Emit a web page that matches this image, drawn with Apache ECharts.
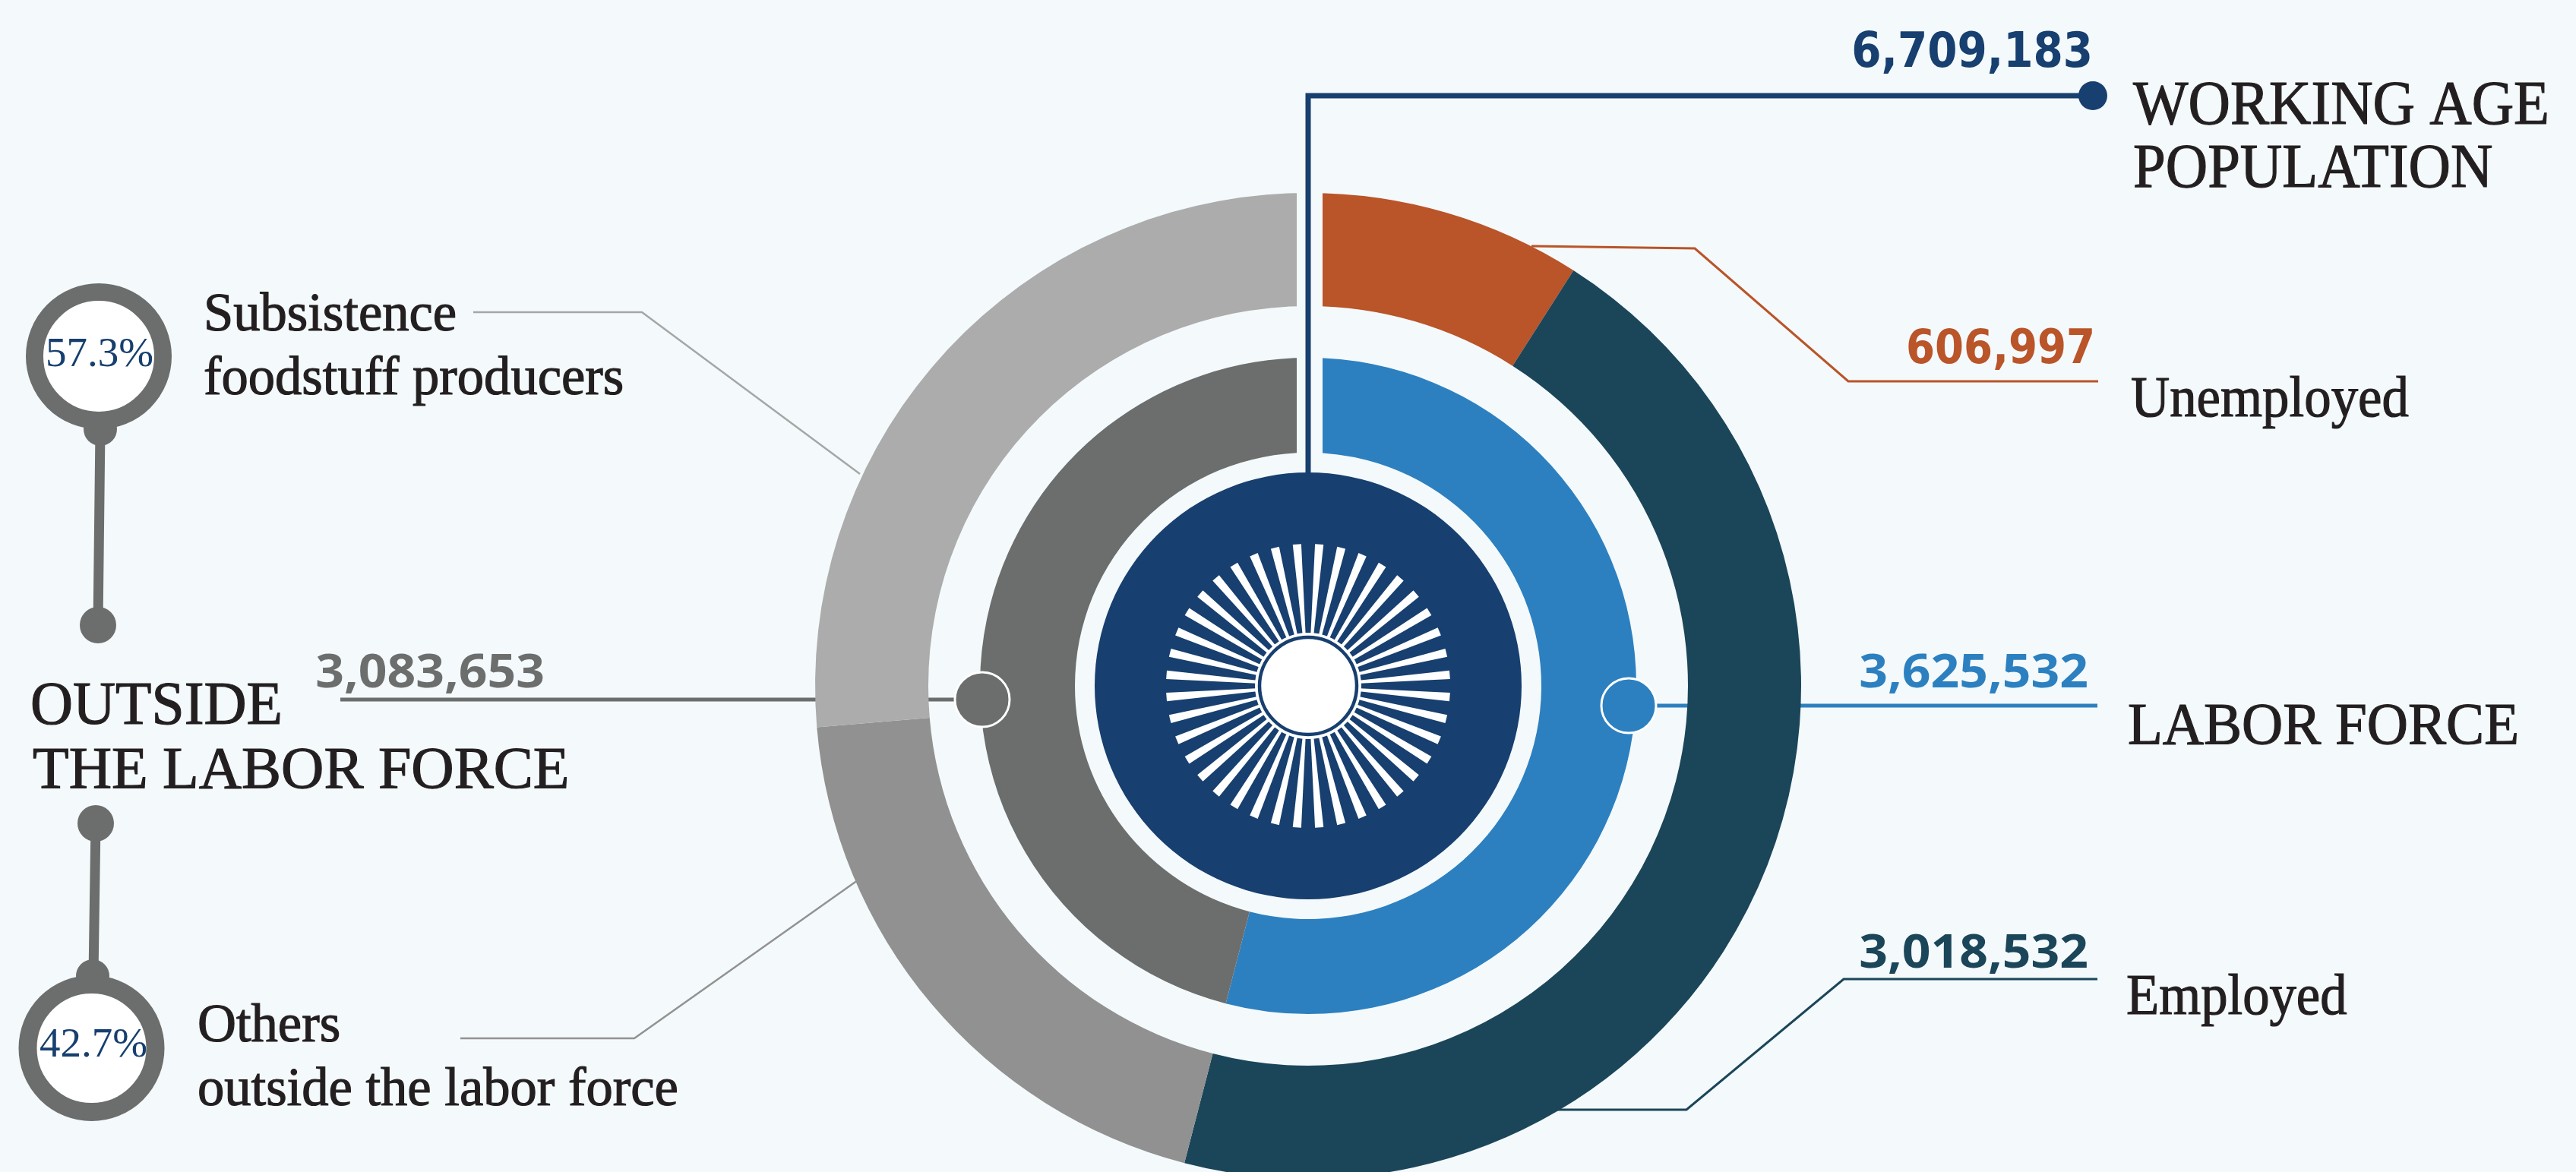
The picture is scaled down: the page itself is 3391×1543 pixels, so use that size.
<!DOCTYPE html>
<html><head><meta charset="utf-8">
<script src="https://cdn.jsdelivr.net/npm/echarts@6/dist/echarts.min.js"></script>
<style>html,body{margin:0;padding:0;background:#F4F9FB;} #c{width:3391px;height:1543px;}</style>
</head><body><div id="c"></div>
<script>
// ---------------- data ----------------
const totalLabel = ['WORKING AGE', 'POPULATION'];
const totalValue = 6709183;
const innerCategories = ['LABOR FORCE', 'OUTSIDE THE LABOR FORCE'];
const innerValues = [3625532, 3083653];
const outerCategories = ['Unemployed', 'Employed', 'Others outside the labor force', 'Subsistence foodstuff producers'];
const outerValues = [606997, 3018532, 1316720, 1766933];
const outsideShares = ['57.3%', '42.7%'];

// ---------------- styles ----------------
const BG = '#F4F9FB';
const NAVY = '#173F6F';
const innerColors = ['#2C80C0', '#6C6E6D'];
const outerColors = ['#BA5429', '#1B4659', '#909190', '#ABACAB'];
const INK = '#231F20';
const SERIF = '"Liberation Serif", "Times New Roman", serif';
const SANS = '"Open Sans", "Noto Sans", sans-serif';
const COND = '"DejaVu Sans Condensed", "Liberation Sans Narrow", "DejaVu Sans", sans-serif';
const CX = 1722, CY = 903;
const fmt = v => v.toLocaleString('en-US');

function txt(str, x, baseline, size, family, color, align, weight, sx, k, sw) {
  const st = { text: str, x: 0, y: 0, fill: color, font: (weight || 'normal') + ' ' + size + 'px ' + family,
    align: align, verticalAlign: 'middle', textAlign: align, textVerticalAlign: 'middle' };
  if (sw) { st.stroke = color; st.lineWidth = sw; }
  return { type: 'text', x: x, y: baseline - k * size, scaleX: sx || 1, z: 60, silent: true, style: st };
}
function poly(points, color, width, z) {
  return { type: 'polyline', z: z || 1, silent: true, shape: { points: points },
    style: { stroke: color, lineWidth: width, fill: null, lineJoin: 'miter' } };
}
function dot(x, y, r, color, stroke, sw, z) {
  return { type: 'circle', z: z || 40, silent: true, shape: { cx: x, cy: y, r: r },
    style: { fill: color, stroke: stroke || null, lineWidth: sw || 0 } };
}
function seg(x1, y1, x2, y2, color, w, z) {
  return { type: 'line', z: z || 40, silent: true, shape: { x1: x1, y1: y1, x2: x2, y2: y2 },
    style: { stroke: color, lineWidth: w, lineCap: 'round' } };
}

const g = [];
// leader lines (under rings)
g.push(poly([[2016, 324], [2231, 327], [2433, 502], [2762, 502]], outerColors[0], 3, 1));
g.push(poly([[2144, 929], [2761, 929]], innerColors[0], 5, 1));
g.push(poly([[2037, 1461], [2220, 1461], [2427, 1289], [2761, 1289]], outerColors[1], 3, 1));
g.push(poly([[1293, 921], [448, 921]], innerColors[1], 5, 1));
g.push(poly([[623, 411], [845, 411], [1132, 624]], '#A5A7A6', 2.5, 1));
g.push(poly([[606, 1367], [835, 1367], [1129, 1159]], '#929292', 2.5, 1));
// top gap between ring halves
g.push({ type: 'rect', z: 30, silent: true, shape: { x: CX + 2 - 17, y: 235, width: 34, height: 370 }, style: { fill: BG } });
// navy leader
g.push(poly([[CX, 625], [CX, 126], [2755, 126]], NAVY, 7, 35));
g.push(dot(2755, 126, 19, NAVY, null, 0, 40));
// ring dots
g.push(dot(2144, 929, 36, innerColors[0], '#ffffff', 3, 40));
g.push(dot(1293, 921, 36, innerColors[1], '#ffffff', 3, 40));

// sun emblem
g.push(dot(CX, CY, 70, '#ffffff', null, 0, 41));
g.push({ type: 'circle', z: 42, silent: true, shape: { cx: CX, cy: CY, r: 64 }, style: { fill: null, stroke: NAVY, lineWidth: 4.5 } });
for (let i = 0; i < 40; i++) {
  const a = (4.5 + 9 * i) * Math.PI / 180;
  const dx = Math.sin(a), dy = -Math.cos(a), px = Math.cos(a), py = Math.sin(a);
  const r1 = 68, r2 = 187, w1 = 2, w2 = 5.6;
  g.push({ type: 'polygon', z: 41, silent: true, shape: { points: [
    [CX + dx * r1 + px * w1, CY + dy * r1 + py * w1],
    [CX + dx * r2 + px * w2, CY + dy * r2 + py * w2],
    [CX + dx * r2 - px * w2, CY + dy * r2 - py * w2],
    [CX + dx * r1 - px * w1, CY + dy * r1 - py * w1]] }, style: { fill: '#ffffff' } });
}

// left connector widget
const GREY = innerColors[1];
g.push({ type: 'circle', z: 40, silent: true, shape: { cx: 130, cy: 469, r: 84.5 }, style: { fill: '#ffffff', stroke: GREY, lineWidth: 23 } });
g.push(dot(132, 565, 22, GREY, null, 0, 39));
g.push(seg(132, 565, 129, 823, GREY, 13, 39));
g.push(dot(129, 823, 24, GREY, null, 0, 40));
g.push(dot(126, 1084, 24, GREY, null, 0, 40));
g.push(seg(126, 1084, 123, 1285, GREY, 13, 39));
g.push(dot(122, 1285, 22, GREY, null, 0, 39));
g.push({ type: 'circle', z: 40, silent: true, shape: { cx: 120.5, cy: 1380, r: 84 }, style: { fill: '#ffffff', stroke: GREY, lineWidth: 24 } });

// texts
const KS = 0.33, KO = 0.30, KD = 0.30;
const SW = 1.2;
g.push(txt(fmt(totalValue), 2755, 91, 64, COND, NAVY, 'right', 'bold', 0.98, KD));
g.push(txt(totalLabel[0], 2808, 169, 83, SERIF, INK, 'left', 'normal', 0.925, KS, SW));
g.push(txt(totalLabel[1], 2808, 252, 83, SERIF, INK, 'left', 'normal', 0.925, KS, SW));
g.push(txt(fmt(outerValues[0]), 2758, 480, 62, COND, outerColors[0], 'right', 'bold', 0.98, KD));
g.push(txt(outerCategories[0], 2805, 553, 77, SERIF, INK, 'left', 'normal', 0.92, KS, SW));
g.push(txt(fmt(innerValues[0]), 2749, 906, 60, SANS, innerColors[0], 'right', 'bold', 1.1, KO));
g.push(txt(innerCategories[0], 2801, 984, 79, SERIF, INK, 'left', 'normal', 0.95, KS, SW));
g.push(txt(fmt(outerValues[1]), 2749, 1275, 60, SANS, outerColors[1], 'right', 'bold', 1.1, KO));
g.push(txt(outerCategories[1], 2799, 1340, 76, SERIF, INK, 'left', 'normal', 0.93, KS, SW));
g.push(txt(fmt(innerValues[1]), 717, 906, 60, SANS, GREY, 'right', 'bold', 1.1, KO));
g.push(txt('OUTSIDE', 40, 958, 80, SERIF, INK, 'left', 'normal', 0.97, KS, SW));
g.push(txt('THE LABOR FORCE', 43, 1042, 78, SERIF, INK, 'left', 'normal', 1, KS, SW));
g.push(txt('Subsistence', 268, 440, 72, SERIF, INK, 'left', 'normal', 0.98, KS, SW));
g.push(txt('foodstuff producers', 268, 524, 72, SERIF, INK, 'left', 'normal', 0.98, KS, SW));
g.push(txt('Others', 260, 1376, 72, SERIF, INK, 'left', 'normal', 0.98, KS, SW));
g.push(txt('outside the labor force', 260, 1460, 72, SERIF, INK, 'left', 'normal', 0.98, KS, SW));
g.push(txt(outsideShares[0], 131, 486, 55, SERIF, NAVY, 'center', 'normal', 1, KS));
g.push(txt(outsideShares[1], 123, 1395, 55, SERIF, NAVY, 'center', 'normal', 1, KS));

const pieBase = { type: 'pie', center: [CX, CY], startAngle: 90, clockwise: true, silent: true,
  avoidLabelOverlap: false, label: { show: false }, labelLine: { show: false }, emphasis: { disabled: true } };

const chart = echarts.init(document.getElementById('c'), null, { renderer: 'canvas' });
chart.setOption({
  backgroundColor: BG,
  animation: false,
  series: [
    Object.assign({}, pieBase, { name: 'total', radius: [0, 281], z: 2,
      data: [{ name: totalLabel.join(' '), value: totalValue, itemStyle: { color: NAVY } }] }),
    Object.assign({}, pieBase, { name: 'inner', radius: [307, 432], z: 2,
      data: innerCategories.map((n, i) => ({ name: n, value: innerValues[i], itemStyle: { color: innerColors[i] } })) }),
    Object.assign({}, pieBase, { name: 'outer', radius: [500, 649], z: 2,
      data: outerCategories.map((n, i) => ({ name: n, value: outerValues[i], itemStyle: { color: outerColors[i] } })) })
  ],
  graphic: { elements: g }
});
</script></body></html>
